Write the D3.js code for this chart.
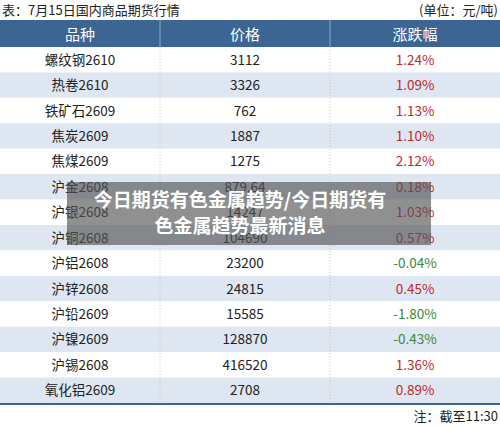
<!DOCTYPE html>
<html><head><meta charset="utf-8">
<script src="https://cdn.jsdelivr.net/npm/d3@7"></script>
<style>body{margin:0;background:#fff}svg{display:block}</style></head>
<body><svg id="c" width="500" height="427"></svg>
<script>
const title = "表：7月15日国内商品期货行情";
const unit = "(单位：元/吨)";
const note = "注：截至11:30";
const headers = ["品种","价格","涨跌幅"];
const names = ["螺纹钢2610","热卷2610","铁矿石2609","焦炭2609","焦煤2609","沪金2608","沪银2608","沪铜2608","沪铝2608","沪锌2608","沪锡2609","沪镍2609","沪锡2608","氧化铝2609"];
const prices = ["3112","3326","762","1887","1275","879.64","14247","104690","23200","24815","15585","128870","416520","2708"];
const changes = [1.24,1.09,1.13,1.10,2.12,0.18,1.03,0.57,-0.04,0.45,-1.80,-0.43,1.36,0.89];
const overlay = ["今日期货有色金属趋势/今日期货有","色金属趋势最新消息"];
names[10]="沪铅2609";
const svg = d3.select("#c");
const font = "'Noto Sans CJK SC','Noto Sans',sans-serif";
const x = d3.scaleOrdinal().domain([0,1,2]).range([0,160,330]);
const w = [160,170,170];
const y = d3.scaleBand().domain(d3.range(names.length)).range([47,403]);
svg.append("text").attr("x",2).attr("y",15).attr("font-family",font).attr("font-size",13).attr("fill","#222").text(title);
svg.append("text").attr("x",498).attr("y",15).attr("text-anchor","end").attr("font-family",font).attr("font-size",13).attr("fill","#222").text(unit);
svg.append("rect").attr("x",0).attr("y",20).attr("width",500).attr("height",27).attr("fill","#3d6594");
headers.forEach((h,i)=>{
  svg.append("text").attr("x",x(i)+w[i]/2).attr("y",40).attr("text-anchor","middle").attr("font-family",font).attr("font-size",15).attr("fill","#fff").text(h);
  if(i>0) svg.append("line").attr("x1",x(i)).attr("x2",x(i)).attr("y1",20).attr("y2",47).attr("stroke","#8aa6c8");
});
const rows = svg.selectAll("g.r").data(names).join("g");
rows.append("rect").attr("x",0).attr("y",(d,i)=>y(i)).attr("width",500).attr("height",y.bandwidth()).attr("fill",(d,i)=>i%2?"#dde6f1":"#fff");
[160,330].forEach(cx=>svg.append("line").attr("x1",cx).attr("x2",cx).attr("y1",47).attr("y2",403).attr("stroke","#c8c8c8").attr("stroke-dasharray","1,2"));
const ty = i=>y(i)+y.bandwidth()/2+5;
rows.append("text").attr("x",80).attr("y",(d,i)=>ty(i)).attr("text-anchor","middle").attr("font-family",font).attr("font-size",13.5).attr("fill","#222").text(d=>d);
rows.append("text").attr("x",245).attr("y",(d,i)=>ty(i)).attr("text-anchor","middle").attr("font-family",font).attr("font-size",13.5).attr("fill","#222").text((d,i)=>prices[i]);
rows.append("text").attr("x",415).attr("y",(d,i)=>ty(i)).attr("text-anchor","middle").attr("font-family",font).attr("font-size",13.5).attr("fill",(d,i)=>changes[i]<0?"#3b8a3b":"#c0282d").text((d,i)=>changes[i].toFixed(2)+"%");
svg.append("line").attr("x1",0).attr("x2",500).attr("y1",404).attr("y2",404).attr("stroke","#3d6594").attr("stroke-width",2);
svg.append("text").attr("x",498).attr("y",421).attr("text-anchor","end").attr("font-family",font).attr("font-size",13).attr("fill","#222").text(note);
svg.append("rect").attr("x",67).attr("y",182).attr("width",364).attr("height",63).attr("fill","#555").attr("opacity",0.65);
overlay.forEach((t,i)=>svg.append("text").attr("x",240).attr("y",207+i*26).attr("text-anchor","middle").attr("font-family",font).attr("font-weight","bold").attr("font-size",19).attr("fill","#fff").text(t));
</script></body></html>
